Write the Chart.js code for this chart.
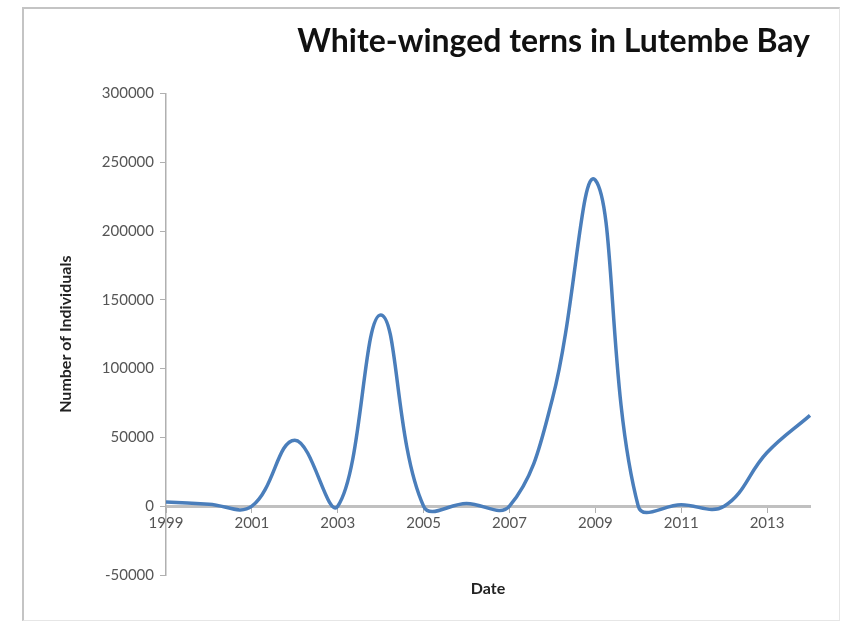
<!DOCTYPE html>
<html>
<head>
<meta charset="utf-8">
<script src="https://cdn.jsdelivr.net/npm/chart.js@4"></script>
<style>
  html, body { margin: 0; padding: 0; background: #fff; }
  #wrap { position: relative; width: 844px; height: 623px; }
  #frame {
    position: absolute; left: 22px; top: 7px; width: 815px; height: 611px;
    border-left: 2px solid #c4c4c4; border-top: 2px solid #c4c4c4;
    border-right: 1px solid #e6e6e6; border-bottom: 1px solid #e6e6e6;
  }
  canvas { position: absolute; left: 0; top: 0; }
</style>
</head>
<body>
<div id="wrap">
  <div id="frame"></div>
  <canvas id="ternsChart" width="844" height="623"></canvas>
</div>
<script>
// data
const years = ["1999", "2000", "2001", "2002", "2003", "2004", "2005", "2006",
  "2007", "2008", "2009", "2010", "2011", "2012", "2013", "2014"];
const individuals = [3000, 1500, 0, 48000, 0, 139000, 0, 2000,
  0, 78000, 237000, 0, 1000, 0, 39000, 66000];
const yTicks = [-50000, 0, 50000, 100000, 150000, 200000, 250000, 300000];

const fontFamily = "Lato, 'Open Sans', sans-serif";

document.addEventListener("DOMContentLoaded", function () {
  const ctx = document.getElementById("ternsChart");

  new Chart(ctx, {
    type: "line",
    data: {
      labels: years,
      datasets: [
        {
          label: "White-winged terns",
          data: individuals,
          borderColor: "#4a7ebb",
          borderWidth: 3.5,
          pointRadius: 0,
          tension: 0.4,
          fill: false,
        },
      ],
    },
    options: {
      responsive: false,
      animation: false,
      layout: { padding: { left: 52, right: 34, top: 8, bottom: 48 } },
      plugins: {
        legend: { display: false },
        tooltip: { enabled: false },
        title: {
          display: true,
          text: "White-winged terns in Lutembe Bay",
          align: "end",
          color: "#111",
          font: { family: fontFamily, size: 32, weight: "bold" },
          padding: { top: 14, bottom: 33 },
        },
      },
      scales: {
        x: {
          type: "category",
          offset: false,
          position: { y: 0 },
          border: { color: "#c0c0c0", width: 3 },
          grid: {
            display: true,
            drawOnChartArea: false,
            tickLength: 5,
            tickColor: (c) => (c.index % 2 === 0 ? "#b0b0b0" : "rgba(0,0,0,0)"),
          },
          ticks: {
            autoSkip: false,
            maxRotation: 0,
            color: "#555",
            padding: 3,
            font: { family: fontFamily, size: 15 },
            callback: function (value, index) {
              return index % 2 === 0 ? this.getLabelForValue(value) : "";
            },
          },
          title: {
            display: true,
            text: "Date",
            color: "#222",
            font: { family: fontFamily, size: 16, weight: "bold" },
            padding: { top: 44 },
          },
        },
        y: {
          min: -50000,
          max: 300000,
          afterBuildTicks: (scale) => {
            scale.ticks = yTicks.map((v) => ({ value: v }));
          },
          afterFit: (scale) => {
            scale.width = 114;
          },
          border: { color: "#b0b0b0", width: 1.5 },
          grid: {
            drawOnChartArea: false,
            tickLength: 6,
            tickColor: "#b0b0b0",
          },
          ticks: {
            color: "#555",
            padding: 6,
            font: { family: fontFamily, size: 15 },
            callback: (value) => String(value),
          },
          title: {
            display: true,
            text: "Number of Individuals",
            color: "#222",
            font: { family: fontFamily, size: 16, weight: "bold" },
            padding: { bottom: 6 },
          },
        },
      },
    },
  });
});
</script>
</body>
</html>
